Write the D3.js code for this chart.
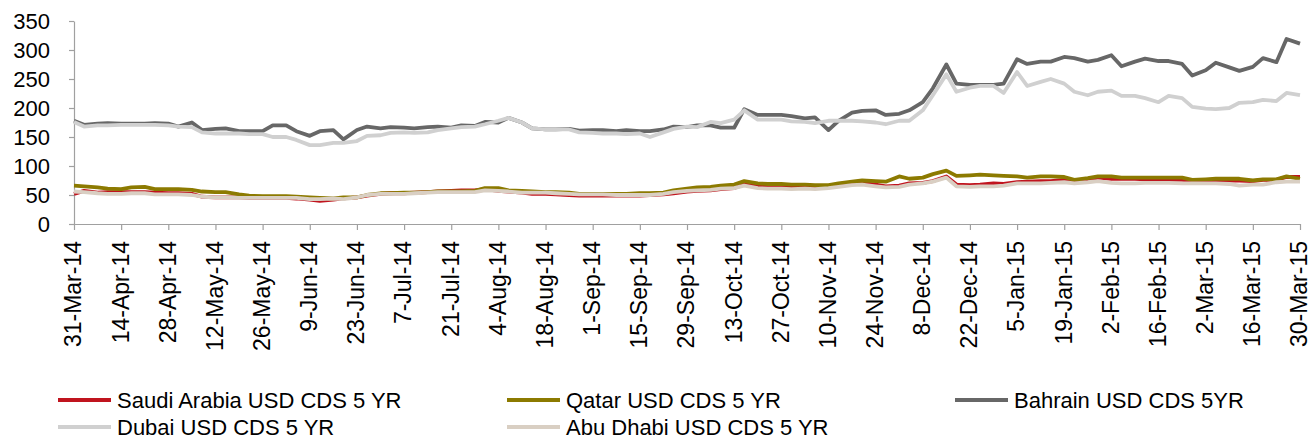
<!DOCTYPE html>
<html>
<head>
<meta charset="utf-8">
<script src="https://cdn.jsdelivr.net/npm/d3@7"></script>
<style>
  body { margin: 0; background: #fff; }
  text { font-family: "Liberation Sans", Arial, sans-serif; fill: #000; }
</style>
</head>
<body>
<div class="container"></div>
<script>
// data: Mondays and Thursdays, 31-Mar-14 .. 30-Mar-15
const dates = ["31-Mar-14","3-Apr-14","7-Apr-14","10-Apr-14","14-Apr-14","17-Apr-14","21-Apr-14","24-Apr-14","28-Apr-14","1-May-14",
  "5-May-14","8-May-14","12-May-14","15-May-14","19-May-14","22-May-14","26-May-14","29-May-14","2-Jun-14","5-Jun-14",
  "9-Jun-14","12-Jun-14","16-Jun-14","19-Jun-14","23-Jun-14","26-Jun-14","30-Jun-14","3-Jul-14","7-Jul-14","10-Jul-14",
  "14-Jul-14","17-Jul-14","21-Jul-14","24-Jul-14","28-Jul-14","31-Jul-14","4-Aug-14","7-Aug-14","11-Aug-14","14-Aug-14",
  "18-Aug-14","21-Aug-14","25-Aug-14","28-Aug-14","1-Sep-14","4-Sep-14","8-Sep-14","11-Sep-14","15-Sep-14","18-Sep-14",
  "22-Sep-14","25-Sep-14","29-Sep-14","2-Oct-14","6-Oct-14","9-Oct-14","13-Oct-14","16-Oct-14","20-Oct-14","23-Oct-14",
  "27-Oct-14","30-Oct-14","3-Nov-14","6-Nov-14","10-Nov-14","13-Nov-14","17-Nov-14","20-Nov-14","24-Nov-14","27-Nov-14",
  "1-Dec-14","4-Dec-14","8-Dec-14","11-Dec-14","15-Dec-14","18-Dec-14","22-Dec-14","25-Dec-14","29-Dec-14","1-Jan-15",
  "5-Jan-15","8-Jan-15","12-Jan-15","15-Jan-15","19-Jan-15","22-Jan-15","26-Jan-15","29-Jan-15","2-Feb-15","5-Feb-15",
  "9-Feb-15","12-Feb-15","16-Feb-15","19-Feb-15","23-Feb-15","26-Feb-15","2-Mar-15","5-Mar-15","9-Mar-15","12-Mar-15",
  "16-Mar-15","19-Mar-15","23-Mar-15","26-Mar-15","30-Mar-15"]

const saudi = [52,57, 54,55, 55,55, 55,54, 53,53, 52,47, 46,46, 46,45, 45,45, 45,44, 42,40, 42,44, 46,49, 52,53, 53,54, 55,56,
  57,58, 58,60, 57,56, 54,52, 52,51, 50,49, 49,49, 49,49, 49,50, 51,53, 56,57, 58,60, 62,68, 66,65, 65,64, 65,64, 65,67,
  69,71, 68,65, 66,70, 71,74, 82,68, 67,68, 70,69, 72,73, 74,74, 76,75, 76,80, 78,78, 78,77, 76,76, 76,74, 75,75, 75,75,
  74,76, 76,81, 81]
const qatar = [66,65, 63,61, 60,63, 64,60, 60,60, 59,56, 55,55, 51,49, 48,48, 48,47, 46,45, 44,46, 46,50, 53,53, 54,54, 55,56,
  56,56, 57,62, 62,58, 57,56, 55,55, 54,52, 52,52, 52,52, 53,53, 54,58, 61,63, 64,66, 68,74, 70,69, 69,68, 68,67, 67,70,
  73,75, 74,73, 82,78, 80,86, 92,83, 84,85, 84,83, 82,80, 82,82, 81,76, 79,82, 82,80, 80,80, 80,80, 80,76, 77,78, 78,78,
  75,77, 77,82, 78]
const bahrain = [178,171, 173,174, 173,173, 173,174, 173,168, 175,162, 164,165, 160,160, 160,170, 170,160, 152,160, 162,146,
  162,168, 165,167, 166,165, 167,168, 166,170, 169,176, 175,183, 175,165, 163,163, 164,161, 162,162, 160,162, 160,160,
  163,168, 167,170, 170,166, 166,198, 188,188, 188,186, 182,184, 162,178, 192,195, 196,188, 190,196, 210,234, 275,242,
  240,240, 240,242, 284,276, 280,280, 288,286, 280,283, 291,272, 280,285, 281,281, 276,256, 265,278, 270,264, 271,286,
  279,319, 311]
const dubai = [176,168, 170,170, 171,171, 171,171, 170,168, 167,158, 156,156, 156,155, 155,150, 150,145, 136,136, 140,140,
  143,152, 153,157, 158,157, 158,162, 165,167, 168,172, 178,183, 175,165, 163,163, 163,158, 157,156, 156,155, 156,150,
  158,164, 168,167, 176,174, 180,196, 180,180, 180,177, 176,174, 178,178, 178,177, 175,172, 178,178, 196,222, 258,228,
  235,238, 238,226, 262,238, 245,250, 242,228, 222,228, 230,221, 221,217, 210,221, 217,202, 199,198, 200,209, 210,214,
  212,226, 222]
const abuDhabi = [56,55, 53,52, 52,53, 53,51, 51,51, 50,47, 46,46, 45,45, 45,45, 45,45, 43,43, 44,43, 46,50, 52,52, 52,53,
  54,55, 55,55, 55,58, 57,56, 54,54, 54,53, 52,51, 51,51, 50,50, 50,50, 52,55, 57,58, 59,61, 62,66, 62,61, 61,60, 61,60,
  62,64, 67,68, 65,63, 64,68, 70,73, 80,65, 64,65, 65,66, 70,70, 70,71, 72,70, 72,74, 71,70, 70,71, 71,71, 70,70, 70,70,
  69,66, 68,68, 72,73, 73]

const seriesNames = ["Saudi Arabia USD CDS 5 YR", "Qatar USD CDS 5 YR", "Bahrain USD CDS 5YR", "Dubai USD CDS 5 YR", "Abu Dhabi USD CDS 5 YR"]
const seriesColors = ["#C0141E", "#8C7A00", "#676767", "#D0D0D0", "#D9CFC3"]
const seriesValues = [saudi, qatar, bahrain, dubai, abuDhabi]

const tickLabels = ["31-Mar-14","14-Apr-14","28-Apr-14","12-May-14","26-May-14","9-Jun-14","23-Jun-14","7-Jul-14","21-Jul-14",
  "4-Aug-14","18-Aug-14","1-Sep-14","15-Sep-14","29-Sep-14","13-Oct-14","27-Oct-14","10-Nov-14","24-Nov-14","8-Dec-14",
  "22-Dec-14","5-Jan-15","19-Jan-15","2-Feb-15","16-Feb-15","2-Mar-15","16-Mar-15","30-Mar-15"]
const yTicks = [0, 50, 100, 150, 200, 250, 300, 350]

// sizes
const width = 1312
const height = 440
const margin = {top: 21, bottom: 216, left: 74, right: 12}

const parse = d3.timeParse("%d-%b-%y")
const fmt = d3.timeFormat("%-d-%b-%y")

const svg = d3.select(".container").append("svg").attr("width", width).attr("height", height)
const axisGroup = svg.append("g").attr("id", "axisGroup")
const elementGroup = svg.append("g").attr("id", "elementGroup")
const legendGroup = svg.append("g").attr("id", "legendGroup")

let x = d3.scaleTime()
  .domain([parse(dates[0]), parse(dates[dates.length - 1])])
  .range([margin.left, width - margin.right])
let y = d3.scaleLinear().domain([0, 350]).range([height - margin.bottom, margin.top])

const xAxis = d3.axisBottom(x).tickValues(tickLabels.map(parse)).tickFormat(fmt).tickSize(6).tickSizeOuter(0)
const yAxis = d3.axisLeft(y).tickValues(yTicks).tickSize(5).tickSizeOuter(0)

const xAxisGroup = axisGroup.append("g").attr("transform", `translate(0, ${height - margin.bottom})`).call(xAxis)
const yAxisGroup = axisGroup.append("g").attr("transform", `translate(${margin.left}, 0)`).call(yAxis)

axisGroup.selectAll(".domain, .tick line").attr("stroke", "#A0A0A0").attr("stroke-width", 1.2)
yAxisGroup.selectAll("text").attr("x", -24).style("font-size", "22px").attr("fill", "#000")
xAxisGroup.selectAll("text")
  .style("font-size", "23px").attr("fill", "#000")
  .attr("text-anchor", "end")
  .attr("transform", "rotate(-90)")
  .attr("x", -17).attr("y", 0).attr("dy", "0.3em")

// lines
const line = d3.line().x(d => x(d.date)).y(d => y(d.value))
seriesValues.forEach((vals, i) => {
  const pts = vals.map((v, j) => ({date: parse(dates[j]), value: v}))
  elementGroup.append("path")
    .datum(pts)
    .attr("d", line)
    .attr("fill", "none")
    .attr("stroke", seriesColors[i])
    .attr("stroke-width", 3.8)
    .attr("stroke-linejoin", "round")
})

// legend
const legendPos = [[58, 400], [507, 400], [955, 400], [58, 427], [507, 427]]
seriesNames.forEach((name, i) => {
  const [lx, ly] = legendPos[i]
  legendGroup.append("line")
    .attr("x1", lx).attr("x2", lx + 53).attr("y1", ly).attr("y2", ly)
    .attr("stroke", seriesColors[i]).attr("stroke-width", 3.8)
  legendGroup.append("text")
    .attr("x", lx + 59).attr("y", ly).attr("dy", "0.35em")
    .style("font-size", "22px")
    .text(name)
})
</script>
</body>
</html>
